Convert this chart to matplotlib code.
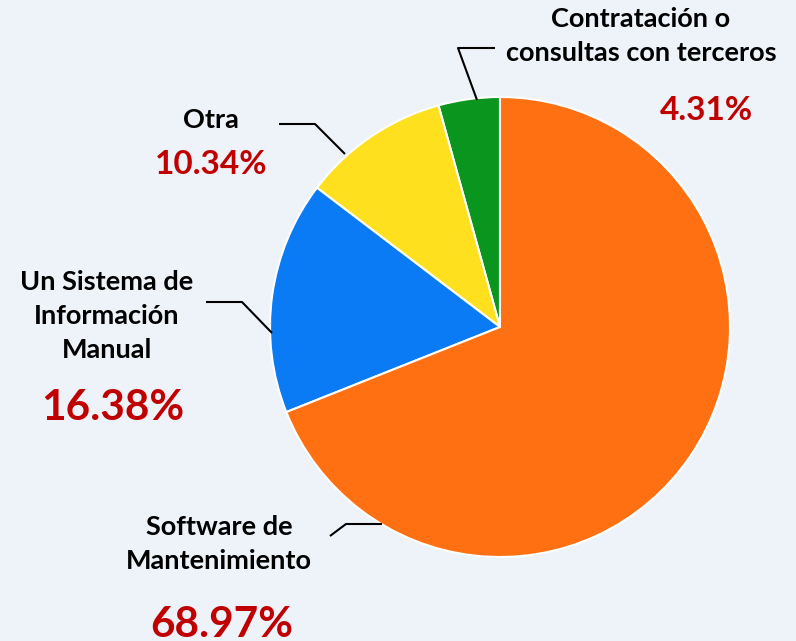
import matplotlib
matplotlib.use("Agg")
import matplotlib.pyplot as plt

# =========================================================
# DATOS
# =========================================================

categorias = ["Contratación o\nconsultas con terceros", "Otra",
              "Un Sistema de\nInformación\nManual", "Software de\nMantenimiento"]
porcentajes = [4.31, 10.34, 16.38, 68.97]
etiquetas_pct = ["4.31%", "10.34%", "16.38%", "68.97%"]
colores = ["#0A961E", "#FFE01E", "#0A7BF5", "#FF7012"]

FONDO = "#EEF2F9"
ROJO = "#C00000"
FUENTE = "Lato"

# =========================================================
# FIGURA (coordenadas en pixeles, y hacia arriba)
# =========================================================

W, H = 796, 641
fig = plt.figure(figsize=(W / 100, H / 100), dpi=100, facecolor=FONDO)
ax = fig.add_axes([0, 0, 1, 1])

cx, cy, r = 500, H - 327, 230

ax.pie(porcentajes, colors=colores, startangle=90, counterclock=True,
       center=(cx, cy), radius=r, frame=True,
       wedgeprops=dict(edgecolor="white", linewidth=1.5))
ax.set_xlim(0, W)
ax.set_ylim(0, H)
ax.set_aspect("equal")
ax.axis("off")

# =========================================================
# LINEAS GUIA
# =========================================================

guias = [
    [(495, 48), (458, 48), (477, 100)],
    [(279, 124), (315, 124), (345, 154)],
    [(206, 302), (242, 302), (272, 333)],
    [(330, 536), (346, 524), (382, 524)],
]
for g in guias:
    xs = [p[0] for p in g]
    ys = [H - p[1] for p in g]
    ax.plot(xs, ys, color="black", lw=1.5, solid_capstyle="butt")

# =========================================================
# TEXTOS
# =========================================================

pos_nombre = [(641, 36), (211, 120), (107, 316), (219, 544)]
pos_pct = [(706, 111), (211, 165), (113, 408), (222, 625)]
tam_pct = [24, 24, 30.5, 30.5]

for i in range(len(categorias)):
    ax.text(pos_nombre[i][0], H - pos_nombre[i][1], categorias[i],
            ha="center", va="center", fontsize=19.5, fontweight="bold",
            family=FUENTE, linespacing=1.52, color="black")
    ax.text(pos_pct[i][0], H - pos_pct[i][1], etiquetas_pct[i],
            ha="center", va="center", fontsize=tam_pct[i], fontweight="bold",
            family=FUENTE, color=ROJO)

fig.savefig("out.png", dpi=100, facecolor=FONDO)
